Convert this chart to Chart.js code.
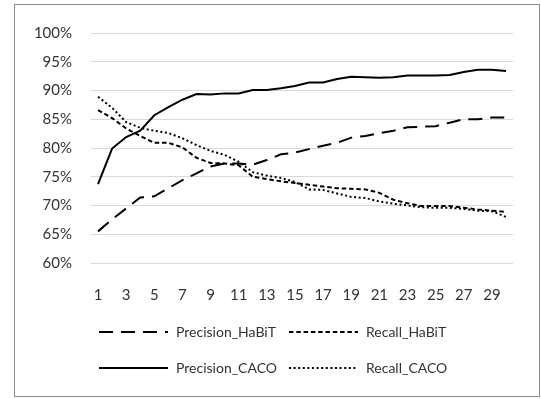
<!DOCTYPE html>
<html>
<head>
<meta charset="utf-8">
<script src="https://cdn.jsdelivr.net/npm/chart.js@4.4.1/dist/chart.umd.min.js"></script>
<style>
  html, body { margin: 0; padding: 0; background: #fff; }
  #wrap { width: 541px; height: 399px; }
</style>
</head>
<body>
<div id="wrap"><canvas id="chart" width="541" height="399"></canvas></div>
<script>
const categories = ["1", "2", "3", "4", "5", "6", "7", "8", "9", "10",
    "11", "12", "13", "14", "15", "16", "17", "18", "19", "20",
    "21", "22", "23", "24", "25", "26", "27", "28", "29", "30"];

const precisionHabit = [65.5, 67.6, 69.5, 71.4, 71.6, 73.0, 74.4, 75.6, 76.8, 77.3,
    77.3, 77.1, 77.9, 78.9, 79.2, 79.8, 80.4, 80.9, 81.8, 82.1,
    82.6, 83.0, 83.6, 83.7, 83.8, 84.4, 85.0, 85.0, 85.3, 85.3];

const recallHabit = [86.6, 85.2, 83.4, 82.1, 80.9, 80.9, 80.1, 78.3, 77.4, 77.3,
    77.0, 75.0, 74.6, 74.2, 73.9, 73.6, 73.3, 73.0, 72.9, 72.8,
    72.2, 71.0, 70.4, 69.9, 69.9, 69.9, 69.6, 69.3, 69.1, 68.9];

const precisionCaco = [73.7, 79.9, 81.9, 83.0, 85.7, 87.1, 88.4, 89.4, 89.3, 89.5,
    89.5, 90.1, 90.1, 90.4, 90.8, 91.4, 91.4, 92.0, 92.4, 92.3,
    92.2, 92.3, 92.6, 92.6, 92.6, 92.7, 93.2, 93.6, 93.6, 93.4];

const recallCaco = [88.9, 87.0, 84.5, 83.5, 83.0, 82.6, 81.7, 80.5, 79.5, 78.8,
    77.6, 75.8, 75.2, 74.8, 74.1, 72.8, 72.7, 72.1, 71.5, 71.3,
    70.7, 70.3, 70.0, 69.7, 69.6, 69.6, 69.4, 69.1, 69.0, 68.0];

const yTicks = [60, 65, 70, 75, 80, 85, 90, 95, 100];

const font = { family: "Lato", size: 15 };
const textColor = "#333";

// outer frame around the whole chart
const frame = {
    id: "frame",
    beforeDraw(c) {
        const ctx = c.ctx;
        ctx.save();
        ctx.fillStyle = "#fff";
        ctx.fillRect(0, 0, c.width, c.height);
        ctx.strokeStyle = "#8c8c8c";
        ctx.lineWidth = 1;
        ctx.strokeRect(14.5, 4.5, 525, 392);
        ctx.restore();
    }
};

// two-column legend under the plot, samples use each dataset's own dash
const legendGrid = {
    id: "legendGrid",
    afterDraw(c) {
        const ctx = c.ctx;
        const cols = [99, 289];
        const rows = [332, 368];
        const sample = 69;
        c.data.datasets.forEach((ds, i) => {
            const x = cols[i % 2];
            const y = rows[Math.floor(i / 2)];
            ctx.save();
            ctx.strokeStyle = ds.borderColor;
            ctx.lineWidth = ds.borderWidth;
            ctx.setLineDash(ds.borderDash);
            ctx.beginPath();
            ctx.moveTo(x, y);
            ctx.lineTo(x + sample, y);
            ctx.stroke();
            ctx.setLineDash([]);
            ctx.fillStyle = textColor;
            ctx.font = "14px " + font.family;
            ctx.textBaseline = "middle";
            ctx.fillText(ds.label, x + sample + 8, y);
            ctx.restore();
        });
    }
};

function line(label, data, dash) {
    return {
        label: label,
        data: data,
        borderColor: "#000",
        backgroundColor: "#000",
        borderWidth: 2,
        borderDash: dash,
        pointRadius: 0,
        tension: 0,
        fill: false
    };
}

new Chart(document.querySelector("#chart"), {
    type: "line",
    data: {
        labels: categories,
        datasets: [
            line("Precision_HaBiT", precisionHabit, [14, 8]),
            line("Recall_HaBiT", recallHabit, [4.5, 2.8]),
            line("Precision_CACO", precisionCaco, []),
            line("Recall_CACO", recallCaco, [2, 2.6])
        ]
    },
    options: {
        responsive: false,
        animation: false,
        layout: { padding: { top: 33, right: 28, bottom: 95.5, left: 20 } },
        plugins: {
            tooltip: { enabled: false },
            legend: { display: false }
        },
        scales: {
            x: {
                offset: true,
                grid: { display: false },
                border: { display: false },
                ticks: {
                    autoSkip: false,
                    maxRotation: 0,
                    padding: 15,
                    color: textColor,
                    font: font,
                    callback: (v, i) => (i % 2 === 0 ? categories[i] : "")
                },
                afterFit: s => { s.height = 40.5; }
            },
            y: {
                min: 60,
                max: 100,
                grid: { color: "#d9d9d9", lineWidth: 1, drawTicks: false },
                border: { display: false },
                afterBuildTicks: s => { s.ticks = yTicks.map(v => ({ value: v })); },
                ticks: {
                    padding: 19,
                    color: textColor,
                    font: font,
                    callback: v => v + "%"
                },
                afterFit: s => { s.width = 71; }
            }
        }
    },
    plugins: [frame, legendGrid]
});
</script>
</body>
</html>
